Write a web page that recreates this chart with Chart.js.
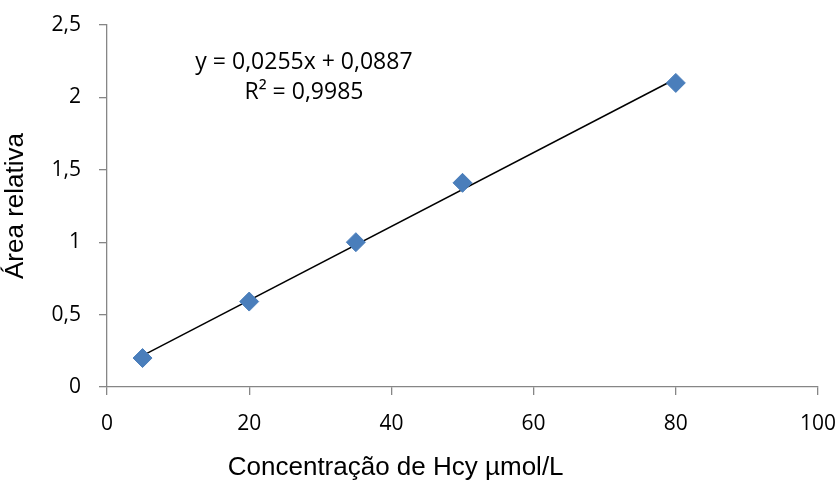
<!DOCTYPE html>
<html>
<head>
<meta charset="utf-8">
<script src="https://cdn.jsdelivr.net/npm/chart.js@4"></script>
<style>
  html, body { margin: 0; padding: 0; background: #fff; }
  #wrap { width: 840px; height: 493px; position: relative; }
</style>
</head>
<body>
<div id="wrap"><canvas id="myChart"></canvas></div>
<script>
// calibration points
let concentracao = [5, 20, 35, 50, 80];
let area = [0.2, 0.59, 1.0, 1.41, 2.1];

// linear trendline end points (x = 5 and x = 80)
let trendX = [5, 80];
let trendY = [0.2162, 2.1287];

// axis ticks
let xTicks = [0, 20, 40, 60, 80, 100];
let yTicks = [0, 0.5, 1, 1.5, 2, 2.5];
let yTickLabels = ["0", "0,5", "1", "1,5", "2", "2,5"];

let eqLines = ["y = 0,0255x + 0,0887", "R² = 0,9985"];
let xTitle = "Concentração de Hcy µmol/L";
let yTitle = "Área relativa";

let axisGrey = "#868686";
let tickFont = { family: "'Open Sans', sans-serif", size: 21 };

//draws the equation box and the x axis title
const labelsPlugin = {
  id: "labels",
  afterDraw(chart) {
    const ctx = chart.ctx;
    const xs = chart.scales.x;
    const ys = chart.scales.y;
    ctx.save();
    ctx.fillStyle = "#000";
    ctx.textAlign = "center";
    ctx.textBaseline = "middle";
    ctx.font = "23px 'Open Sans', sans-serif";
    let cx = xs.getPixelForValue(27.7);
    ctx.fillText(eqLines[0], cx, ys.getPixelForValue(2.24));
    ctx.fillText(eqLines[1], cx, ys.getPixelForValue(2.035));

    ctx.font = "26px 'Liberation Sans', Arial, sans-serif";
    ctx.fillText(xTitle, xs.getPixelForValue(40.6), 468);
    ctx.restore();
  }
};

let points = concentracao.map((c, i) => ({ x: c, y: area[i] }));
let trend = trendX.map((c, i) => ({ x: c, y: trendY[i] }));

let myChart = document.getElementById("myChart").getContext("2d");
new Chart(myChart, {
  type: "scatter",
  data: {
    datasets: [
      {
        type: "line",
        data: trend,
        borderColor: "#000",
        borderWidth: 1.5,
        pointRadius: 0,
        fill: false,
        order: 2
      },
      {
        data: points,
        pointStyle: "rectRot",
        pointRadius: 9.5,
        pointBackgroundColor: "#4A7EBB",
        pointBorderColor: "#4A7EBB",
        pointBorderWidth: 1,
        order: 1
      }
    ]
  },
  options: {
    responsive: true,
    maintainAspectRatio: false,
    animation: false,
    layout: { padding: { top: 25, right: 22, bottom: 0, left: 0 } },
    plugins: { legend: { display: false }, tooltip: { enabled: false } },
    scales: {
      x: {
        type: "linear",
        min: 0,
        max: 100,
        afterBuildTicks: (s) => { s.ticks = xTicks.map(v => ({ value: v })); },
        afterFit: (s) => { s.height = 106; s.paddingLeft = 0; s.paddingRight = 0; },
        border: { color: axisGrey, width: 1.3 },
        grid: { drawOnChartArea: false, color: axisGrey, tickLength: 8, lineWidth: 1.3 },
        ticks: { color: "#000", font: tickFont, padding: 16, maxRotation: 0 }
      },
      y: {
        type: "linear",
        min: 0,
        max: 2.5,
        afterBuildTicks: (s) => { s.ticks = yTicks.map(v => ({ value: v })); },
        afterFit: (s) => { s.width = 107; s.paddingTop = 0; s.paddingBottom = 0; },
        border: { color: axisGrey, width: 1.3 },
        grid: { drawOnChartArea: false, color: axisGrey, tickLength: 8, lineWidth: 1.3 },
        ticks: {
          color: "#000",
          font: tickFont,
          padding: 18,
          callback: (v) => yTickLabels[yTicks.indexOf(v)]
        },
        title: {
          display: true,
          text: yTitle,
          color: "#000",
          font: { family: "'Liberation Sans', Arial, sans-serif", size: 26 },
          padding: { top: 0, bottom: 0 }
        }
      }
    }
  },
  plugins: [labelsPlugin]
});
</script>
</body>
</html>
